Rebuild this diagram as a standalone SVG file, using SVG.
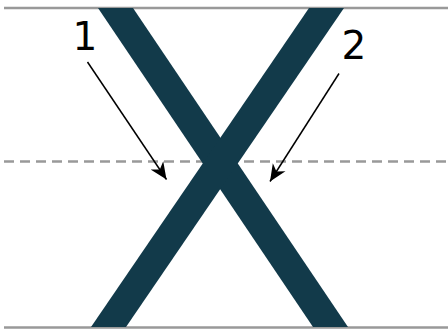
<svg xmlns="http://www.w3.org/2000/svg" width="448" height="334" viewBox="0 0 448 334">
<style>
.guide{stroke:#999;stroke-width:2.5;fill:none}
.dash{stroke-dasharray:10 6}
.bar{fill:#123a4a}
.arrow{stroke:#000;stroke-width:1.5;fill:none;marker-end:url(#ah)}
.lbl{font-family:"DejaVu Sans",sans-serif;font-size:39px;fill:#000;text-anchor:middle}
</style>
<defs>
<marker id="ah" markerUnits="userSpaceOnUse" markerWidth="18" markerHeight="16" refX="17" refY="8" orient="auto">
<path d="M0,0.5 L17,8 L0,15.5 L5,8 z" fill="#000"/>
</marker>
</defs>
<g id="guides">
<line class="guide" x1="4" y1="8" x2="448" y2="8"/>
<line class="guide dash" x1="4" y1="161.5" x2="448" y2="161.5"/>
<line class="guide" x1="4" y1="327.5" x2="448" y2="327.5"/>
</g>
<g id="stroke1"><polygon class="bar" points="98,8 133,8 348,327 313,327"/></g>
<g id="stroke2"><polygon class="bar" points="309,8 344,8 126,327 91,327"/></g>
<g id="label1"><text class="lbl" x="85" y="50">1</text></g>
<g id="label2"><text class="lbl" x="354" y="59">2</text></g>
<g id="connectors">
<line class="arrow" x1="87.5" y1="62" x2="166.5" y2="179.5"/>
<line class="arrow" x1="339" y1="73.5" x2="270" y2="181.5"/>
</g>
</svg>
